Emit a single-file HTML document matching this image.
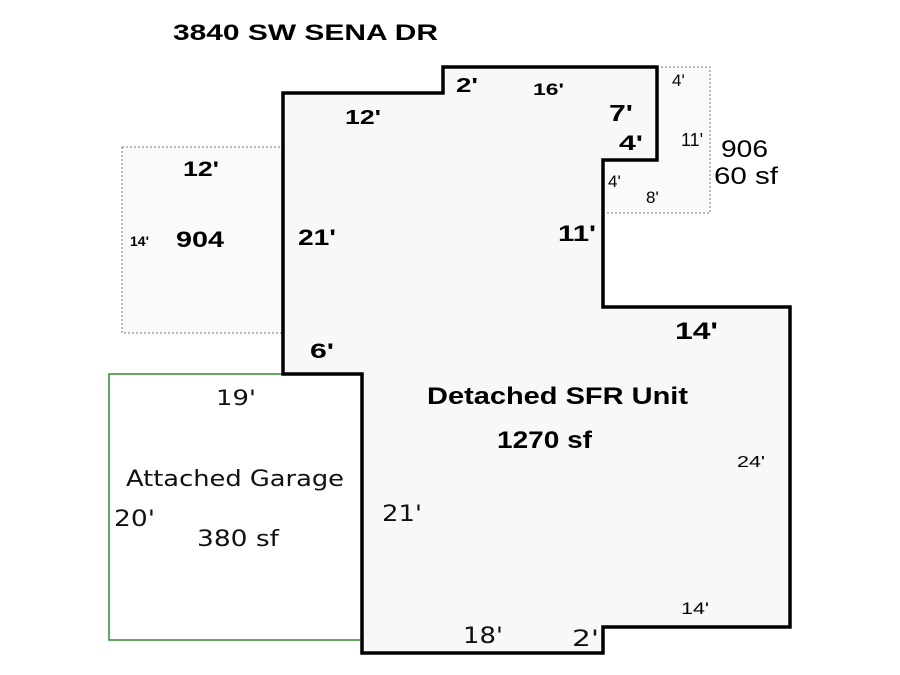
<!DOCTYPE html>
<html><head><meta charset="utf-8"><style>
html,body{margin:0;padding:0;background:#fff;width:900px;height:675px;overflow:hidden}
svg{display:block}
.b{font-family:"Liberation Sans",Arial,sans-serif;font-weight:bold;fill:#000}
.r{font-family:"Liberation Sans",Arial,sans-serif;fill:#000}
.v{font-family:"DejaVu Sans",Verdana,sans-serif;fill:#111}
</style></head><body>
<svg width="900" height="675" viewBox="0 0 900 675" xmlns="http://www.w3.org/2000/svg">
<rect x="122" y="147" width="161" height="186" fill="#fafafa" stroke="#777" stroke-width="1" stroke-dasharray="2,2"/>
<polygon points="657,67 710,67 710,213 603,213 603,160 657,160" fill="#fafafa" stroke="#777" stroke-width="1" stroke-dasharray="2,2"/>
<rect x="109" y="374" width="253" height="266" fill="#fff" stroke="#2e8b2e" stroke-width="1.5"/>
<polygon points="283,93 443,93 443,67 657,67 657,160 603,160 603,307 790,307 790,627 603,627 603,653 362,653 362,374 283,374" fill="#f8f8f8" stroke="#000" stroke-width="3.5"/>
<text class="b" x="173" y="40" font-size="22" textLength="265" lengthAdjust="spacingAndGlyphs">3840 SW SENA DR</text>
<text class="b" x="456" y="92" font-size="20" textLength="22" lengthAdjust="spacingAndGlyphs">2'</text>
<text class="b" x="533" y="95" font-size="17" textLength="31" lengthAdjust="spacingAndGlyphs">16'</text>
<text class="b" x="345" y="124" font-size="20" textLength="36" lengthAdjust="spacingAndGlyphs">12'</text>
<text class="b" x="609" y="121" font-size="23" textLength="24" lengthAdjust="spacingAndGlyphs">7'</text>
<text class="b" x="619" y="150" font-size="21" textLength="24" lengthAdjust="spacingAndGlyphs">4'</text>
<text class="r" x="672" y="86" font-size="17">4'</text>
<text class="r" x="681" y="146" font-size="18">11'</text>
<text class="r" x="721" y="157" font-size="24" textLength="47" lengthAdjust="spacingAndGlyphs">906</text>
<text class="r" x="714" y="184" font-size="24" textLength="64" lengthAdjust="spacingAndGlyphs">60 sf</text>
<text class="r" x="608" y="187" font-size="17">4'</text>
<text class="r" x="646" y="203" font-size="17">8'</text>
<text class="b" x="183" y="176" font-size="21" textLength="36" lengthAdjust="spacingAndGlyphs">12'</text>
<text class="b" x="130" y="246" font-size="14">14'</text>
<text class="b" x="176" y="247" font-size="22" textLength="48" lengthAdjust="spacingAndGlyphs">904</text>
<text class="b" x="298" y="245" font-size="22" textLength="38" lengthAdjust="spacingAndGlyphs">21'</text>
<text class="b" x="558" y="241" font-size="22" textLength="38" lengthAdjust="spacingAndGlyphs">11'</text>
<text class="b" x="675" y="339" font-size="24" textLength="43" lengthAdjust="spacingAndGlyphs">14'</text>
<text class="b" x="310" y="358" font-size="21" textLength="24" lengthAdjust="spacingAndGlyphs">6'</text>
<text class="v" x="216" y="405" font-size="21" textLength="40" lengthAdjust="spacingAndGlyphs">19'</text>
<text class="b" x="427" y="404" font-size="24" textLength="261" lengthAdjust="spacingAndGlyphs">Detached SFR Unit</text>
<text class="b" x="497" y="448" font-size="24" textLength="95" lengthAdjust="spacingAndGlyphs">1270 sf</text>
<text class="r" x="737" y="467" font-size="16" textLength="28" lengthAdjust="spacingAndGlyphs">24'</text>
<text class="v" x="126" y="486" font-size="22" textLength="218" lengthAdjust="spacingAndGlyphs">Attached Garage</text>
<text class="v" x="114" y="526" font-size="22" textLength="41" lengthAdjust="spacingAndGlyphs">20'</text>
<text class="v" x="197" y="546" font-size="22" textLength="82" lengthAdjust="spacingAndGlyphs">380 sf</text>
<text class="v" x="382" y="521" font-size="22" textLength="40" lengthAdjust="spacingAndGlyphs">21'</text>
<text class="r" x="681" y="614" font-size="17" textLength="28" lengthAdjust="spacingAndGlyphs">14'</text>
<text class="v" x="463" y="643" font-size="22" textLength="40" lengthAdjust="spacingAndGlyphs">18'</text>
<text class="v" x="572" y="646" font-size="22" textLength="27" lengthAdjust="spacingAndGlyphs">2'</text>
</svg>
</body></html>
